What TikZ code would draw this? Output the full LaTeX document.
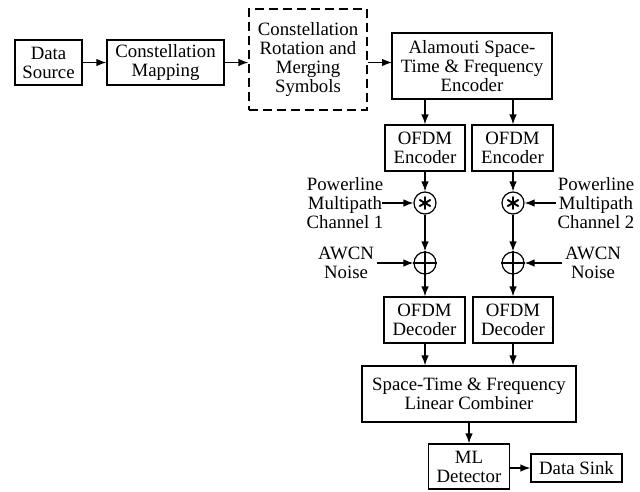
\documentclass[tikz,border=0pt]{standalone}
\usepackage{fontspec}
\setmainfont{Liberation Serif}
\usetikzlibrary{arrows.meta}
\begin{document}
\begin{tikzpicture}[x=1pt,y=-1pt,
  every node/.style={font=\fontsize{18.8}{19}\selectfont, align=center, inner sep=0pt},
  blk/.style={draw, line width=1.2pt, rectangle},
  lbl/.style={},
  arr/.style={line width=1.2pt, -{Latex[length=10pt,width=7.5pt]}},
  op/.style={draw, circle, line width=1.2pt, minimum size=22pt}]
\useasboundingbox (0,0) rectangle (640,491);
\node[blk, minimum width=67pt, minimum height=45pt] (src) at (48.5,62.5) {Data\\Source};
\node[blk, minimum width=117pt, minimum height=45pt] (map) at (165.5,62.5) {Constellation\\Mapping};
\node[blk, dash pattern=on 9pt off 5pt, minimum width=118pt, minimum height=101pt] (rot) at (308,59.5) {Constellation\\Rotation and\\Merging\\Symbols};
\node[blk, minimum width=160pt, minimum height=66pt] (ala) at (472,66) {Alamouti Space-\\Time \& Frequency\\Encoder};
\node[blk, minimum width=80pt, minimum height=46pt] (enc1) at (425,148) {OFDM\\Encoder};
\node[blk, minimum width=81pt, minimum height=46pt] (enc2) at (512.5,148) {OFDM\\Encoder};
\node[op] (m1) at (425,203) {};
\node[op] (m2) at (513,203) {};
\node[op] (a1) at (425,263) {};
\node[op] (a2) at (513,263) {};
\foreach \n in {m1,m2}{
  \foreach \ang in {90,150,210,270,330,30}
    \draw[line width=1.9pt, line cap=round] (\n.center) -- ++(\ang:6pt);
}
\foreach \n in {a1,a2}{
  \draw[line width=1.2pt] (\n.north) -- (\n.south) (\n.west) -- (\n.east);
}
\node[blk, minimum width=81pt, minimum height=46pt] (dec1) at (424.5,320) {OFDM\\Decoder};
\node[blk, minimum width=80pt, minimum height=46pt] (dec2) at (513,320) {OFDM\\Decoder};
\node[blk, minimum width=214pt, minimum height=56pt] (comb) at (469,394) {Space-Time \& Frequency\\Linear Combiner};
\node[blk, minimum width=81pt, minimum height=45pt] (ml) at (469,466.5) {ML\\Detector};
\node[blk, minimum width=91pt, minimum height=28pt] (sink) at (576.5,468) {Data Sink};
\node[lbl] (p1) at (345,203) {Powerline\\Multipath\\Channel 1};
\node[lbl] (p2) at (596,203) {Powerline\\Multipath\\Channel 2};
\node[lbl] (n1) at (346,263) {AWCN\\Noise};
\node[lbl] (n2) at (593,263) {AWCN\\Noise};
\coordinate (p1e) at (382,203);
\coordinate (p2e) at (556,203);
\coordinate (n1e) at (377,263);
\coordinate (n2e) at (562,263);
\coordinate (alain) at (392,62.5);
\draw[arr] (src) -- (map);
\draw[arr] (map.east) -- (map.east -| rot.west);
\draw[arr] (rot.east |- alain) -- (alain);
\draw[arr] (ala.south -| enc1) -- (enc1);
\draw[arr] (ala.south -| m2) -- (enc2.north -| m2);
\draw[arr] (enc1) -- (m1);
\draw[arr] (enc2.south -| m2) -- (m2);
\draw[arr] (m1) -- (a1);
\draw[arr] (m2) -- (a2);
\draw[arr] (a1) -- (dec1.north -| a1);
\draw[arr] (a2) -- (dec2);
\draw[arr] (dec1.south -| a1) -- (comb.north -| a1);
\draw[arr] (dec2) -- (comb.north -| dec2);
\draw[arr] (comb.south -| ml) -- (ml);
\draw[arr] (ml.east |- sink) -- (sink);
\draw[arr] (p1e) -- (m1);
\draw[arr] (p2e) -- (m2);
\draw[arr] (n1e) -- (a1);
\draw[arr] (n2e) -- (a2);
\end{tikzpicture}
\end{document}
